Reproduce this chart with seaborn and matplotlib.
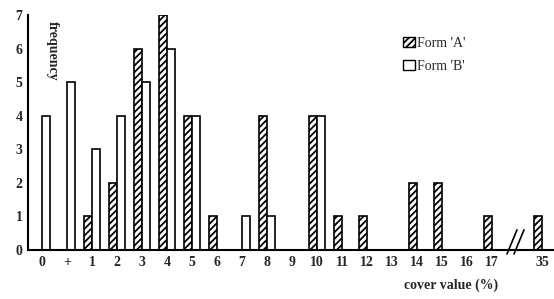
import matplotlib
matplotlib.use("Agg")
import matplotlib.pyplot as plt
import seaborn as sns
import pandas as pd
from matplotlib.patches import Patch

categories = ["0", "+", "1", "2", "3", "4", "5", "6", "7", "8", "9", "10",
              "11", "12", "13", "14", "15", "16", "17", "35"]
form_a = [0, 0, 1, 2, 6, 7, 4, 1, 0, 4, 0, 4, 1, 1, 0, 2, 2, 0, 1, 1]
form_b = [4, 5, 3, 4, 5, 6, 4, 0, 1, 1, 0, 4, 0, 0, 0, 0, 0, 0, 0, 0]
series_names = ["Form 'A'", "Form 'B'"]
order = categories[:-1] + [" "] + categories[-1:]

df = pd.DataFrame({
    "cover": categories * 2,
    "freq": form_a + form_b,
    "form": [series_names[0]] * len(categories) + [series_names[1]] * len(categories),
})

sns.set_style("white")
plt.rcParams["font.family"] = ["Liberation Serif", "DejaVu Serif"]
plt.rcParams["hatch.linewidth"] = 1.3

fig = plt.figure(figsize=(5.54, 2.99), dpi=100)
ax = fig.add_axes([0.0505, 0.164, 0.9495, 0.786])

sns.barplot(data=df, x="cover", y="freq", hue="form", order=order,
            hue_order=series_names, width=0.66, palette=["white", "white"],
            edgecolor="black", linewidth=1.2, legend=False, ax=ax)

for p in ax.containers[0]:
    p.set_hatch("/////")
for c in ax.containers:
    for p in c:
        p.set_edgecolor("black")

ax.set_xlim(-0.56, 20.48)
ax.set_ylim(0, 7)
ax.set_yticks(range(0, 8))
ax.tick_params(length=0, labelsize=10, pad=4)
for lab in ax.get_xticklabels() + ax.get_yticklabels():
    lab.set_fontweight("bold")
ax.set_xlabel("")
ax.set_ylabel("")
for s in ["top", "right"]:
    ax.spines[s].set_visible(False)
for s in ["left", "bottom"]:
    ax.spines[s].set_color("black")
    ax.spines[s].set_linewidth(1.5)

ax.text(0.046, 0.975, "frequency", transform=ax.transAxes, rotation=-90,
        ha="center", va="top", fontsize=10, fontweight="bold")
fig.text(0.814, 0.025, "cover value (%)", ha="center", va="bottom",
         fontsize=10, fontweight="bold")

# axis break mark
for dx in (0.0, 0.28):
    ax.plot([18.6 + dx, 19.0 + dx], [-0.12, 0.6], color="black", lw=1.2,
            clip_on=False)

handles = [Patch(facecolor="white", edgecolor="black", hatch="/////", label=series_names[0]),
           Patch(facecolor="white", edgecolor="black", label=series_names[1])]
ax.legend(handles=handles, loc="upper left", bbox_to_anchor=(0.69, 0.96),
          frameon=False, fontsize=10, handlelength=0.8, handleheight=0.8,
          handletextpad=0.2, labelspacing=0.7)

fig.savefig("out.png", dpi=100)
